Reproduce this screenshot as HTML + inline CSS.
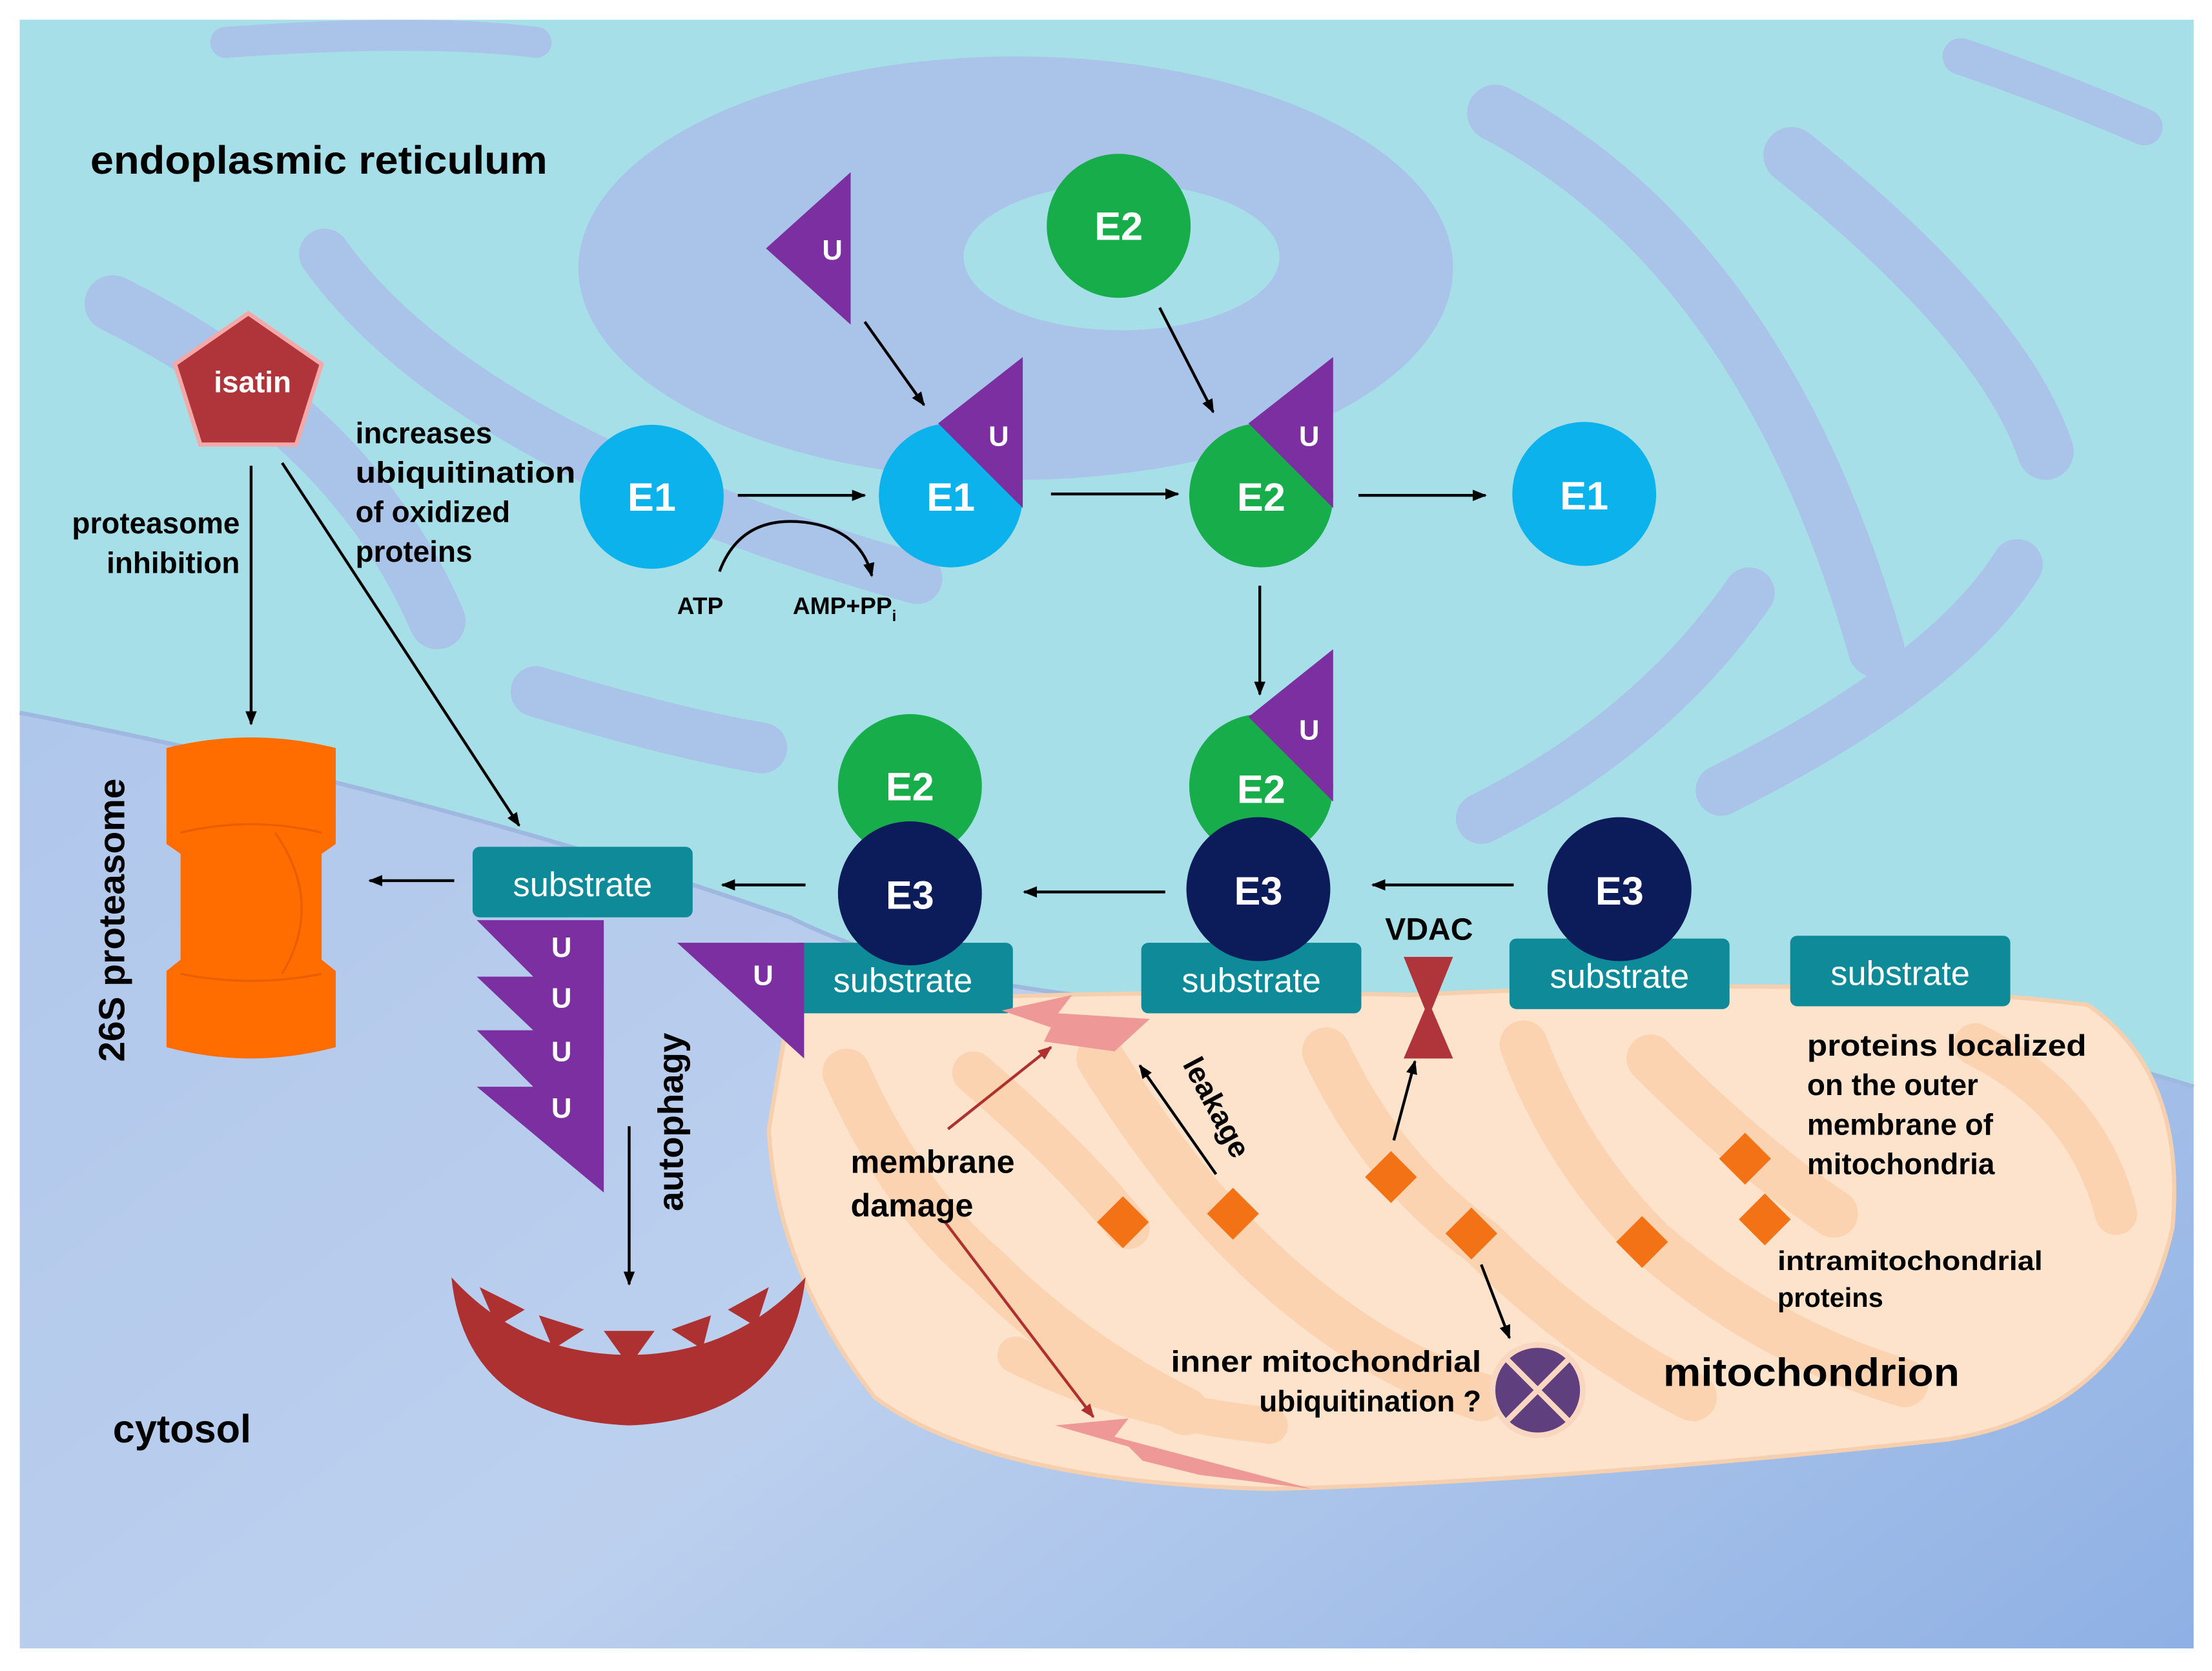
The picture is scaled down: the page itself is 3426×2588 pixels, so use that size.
<!DOCTYPE html>
<html><head><meta charset="utf-8"><style>
html,body{margin:0;padding:0;background:#fff}
svg{display:block}
text{font-family:"Liberation Sans",sans-serif;font-weight:bold}
</style></head><body>
<svg width="3426" height="2588" viewBox="0 0 1568 1184" preserveAspectRatio="none" xmlns="http://www.w3.org/2000/svg">
<defs>
<linearGradient id="cyt" x1="0" y1="0" x2="1" y2="1">
<stop offset="0" stop-color="#a9c2ea"/><stop offset="0.6" stop-color="#bcd0ee"/><stop offset="1" stop-color="#8eb0e4"/></linearGradient>
<marker id="ar" markerWidth="10" markerHeight="10" refX="9" refY="5" orient="auto" markerUnits="userSpaceOnUse"><path d="M0,1 L10,5 L0,9 z" fill="#000"/></marker>
<marker id="rr" markerWidth="10" markerHeight="10" refX="9" refY="5" orient="auto" markerUnits="userSpaceOnUse"><path d="M0,1 L10,5 L0,9 z" fill="#b03030"/></marker>
</defs>
<rect width="1568" height="1184" fill="#fff"/>
<rect x="14" y="14" width="1541" height="1154" fill="url(#cyt)"/>
<!-- ER -->
<path d="M14,14 H1555 V770 Q1300,690 960,712 Q700,720 560,650 Q300,560 14,505 Z" fill="#a7dfe8"/>
<g fill="none" stroke="#aac3e8" stroke-linecap="round">
<path d="M160,30 Q300,20 380,30" stroke-width="22"/>
<path d="M80,215 Q250,300 310,440" stroke-width="40"/>
<path d="M230,180 Q330,320 650,410" stroke-width="36"/>
<path d="M380,490 Q480,520 540,530" stroke-width="36"/>
<path d="M1060,80 Q1250,180 1330,460" stroke-width="40"/>
<path d="M1270,110 Q1420,230 1450,320" stroke-width="40"/>
<path d="M1240,420 Q1170,520 1050,580" stroke-width="36"/>
<path d="M1430,400 Q1380,480 1220,560" stroke-width="36"/>
<path d="M1390,40 Q1450,60 1520,90" stroke-width="26"/>
</g>
<ellipse cx="720" cy="190" rx="310" ry="150" fill="#aac3e8"/>
<ellipse cx="795" cy="182" rx="112" ry="52" fill="#a7dfe8"/>
<path d="M14,505 Q300,560 560,650 Q700,720 960,712 Q1300,690 1555,770" fill="none" stroke="#9fb8e0" stroke-width="3"/>
<!-- mitochondrion -->
<path d="M560,712 Q800,700 1000,705 Q1300,690 1480,712 Q1550,760 1540,870 Q1510,1000 1380,1020 Q1100,1050 900,1055 Q700,1050 620,990 Q550,900 545,800 Z" fill="#fde3cc" stroke="#f6cfae" stroke-width="3"/>
<g fill="none" stroke="#fbd3b0" stroke-linecap="round">
<path d="M600,760 Q640,850 700,900 Q760,960 840,1000" stroke-width="34"/>
<path d="M690,760 Q760,820 800,870" stroke-width="30"/>
<path d="M780,750 Q830,830 880,880 Q960,960 1050,990" stroke-width="34"/>
<path d="M940,745 Q980,830 1050,880 Q1120,950 1200,990" stroke-width="34"/>
<path d="M1080,740 Q1110,820 1170,880 Q1250,950 1350,980" stroke-width="34"/>
<path d="M1170,750 Q1240,820 1300,860" stroke-width="34"/>
<path d="M1400,740 Q1480,780 1500,860" stroke-width="30"/>
<path d="M720,960 Q800,1000 900,1010" stroke-width="26"/>
</g>
<!-- ER top label -->
<text x="64" y="123" font-size="28" textLength="324" lengthAdjust="spacingAndGlyphs">endoplasmic reticulum</text>
<!-- isatin -->
<polygon points="176,222 228,258 210,315 142,315 124,258" fill="#b0353b" stroke="#f4a8a8" stroke-width="3"/>
<text x="179" y="278" font-size="21" fill="#fff" text-anchor="middle">isatin</text>
<text x="170" y="378" font-size="21" text-anchor="end">proteasome</text>
<text x="170" y="406" font-size="21" text-anchor="end">inhibition</text>
<text x="252" y="314" font-size="21">increases</text>
<text x="252" y="342" font-size="21" textLength="156" lengthAdjust="spacingAndGlyphs">ubiquitination</text>
<text x="252" y="370" font-size="21">of oxidized</text>
<text x="252" y="398" font-size="21">proteins</text>
<g stroke="#000" stroke-width="2" fill="none" marker-end="url(#ar)">
<line x1="178" y1="330" x2="178" y2="513"/>
<line x1="200" y1="328" x2="368" y2="585"/>
<line x1="613" y1="228" x2="655" y2="287"/>
<line x1="822" y1="218" x2="860" y2="292"/>
<line x1="523" y1="351" x2="613" y2="351"/>
<line x1="745" y1="350" x2="835" y2="350"/>
<line x1="963" y1="351" x2="1053" y2="351"/>
<line x1="893" y1="415" x2="893" y2="492"/>
<line x1="1073" y1="627" x2="973" y2="627"/>
<line x1="826" y1="632" x2="726" y2="632"/>
<line x1="571" y1="627" x2="512" y2="627"/>
<line x1="322" y1="624" x2="262" y2="624"/>
<line x1="446" y1="798" x2="446" y2="910"/>
<line x1="988" y1="808" x2="1003" y2="752"/>
<line x1="1050" y1="896" x2="1070" y2="948"/>
<line x1="862" y1="832" x2="808" y2="755"/>
<path d="M510,405 Q525,365 570,370 Q610,375 618,408"/>
</g>
<g stroke="#b03030" stroke-width="2" marker-end="url(#rr)">
<line x1="672" y1="800" x2="745" y2="742"/>
<line x1="670" y1="866" x2="775" y2="1004"/>
</g>
<text x="480" y="435" font-size="17">ATP</text>
<text x="562" y="435" font-size="17">AMP+PP<tspan font-size="11" dy="5">i</tspan></text>
<!-- top row -->
<polygon points="603,122 603,230 543,176" fill="#7b2fa0"/>
<text x="590" y="184" font-size="20" fill="#fff" text-anchor="middle">U</text>
<circle cx="793" cy="160" r="51" fill="#16ad4a"/>
<text x="793" y="170" font-size="28" fill="#fff" text-anchor="middle">E2</text>
<circle cx="462" cy="352" r="51" fill="#0cb2ec"/>
<text x="462" y="362" font-size="28" fill="#fff" text-anchor="middle">E1</text>
<circle cx="674" cy="351" r="51" fill="#0cb2ec"/>
<polygon points="725,253 725,360 665,300" fill="#7b2fa0"/>
<text x="708" y="316" font-size="20" fill="#fff" text-anchor="middle">U</text>
<text x="674" y="362" font-size="28" fill="#fff" text-anchor="middle">E1</text>
<circle cx="894" cy="351" r="51" fill="#16ad4a"/>
<polygon points="945,253 945,360 885,300" fill="#7b2fa0"/>
<text x="928" y="316" font-size="20" fill="#fff" text-anchor="middle">U</text>
<text x="894" y="362" font-size="28" fill="#fff" text-anchor="middle">E2</text>
<circle cx="1123" cy="350" r="51" fill="#0cb2ec"/>
<text x="1123" y="361" font-size="28" fill="#fff" text-anchor="middle">E1</text>
<!-- middle -->
<circle cx="894" cy="557" r="51" fill="#16ad4a"/>
<polygon points="945,460 945,568 885,508" fill="#7b2fa0"/>
<text x="928" y="524" font-size="20" fill="#fff" text-anchor="middle">U</text>
<text x="894" y="569" font-size="28" fill="#fff" text-anchor="middle">E2</text>
<circle cx="645" cy="557" r="51" fill="#16ad4a"/>
<text x="645" y="567" font-size="28" fill="#fff" text-anchor="middle">E2</text>
<rect x="562" y="668" width="156" height="50" rx="5" fill="#0e8a98"/>
<rect x="809" y="668" width="156" height="50" rx="5" fill="#0e8a98"/>
<rect x="1070" y="665" width="156" height="50" rx="5" fill="#0e8a98"/>
<rect x="1269" y="663" width="156" height="50" rx="5" fill="#0e8a98"/>
<rect x="335" y="600" width="156" height="50" rx="5" fill="#0e8a98"/>
<g font-size="24" fill="#fff" text-anchor="middle">
<text x="640" y="703" style="font-weight:normal">substrate</text>
<text x="887" y="703" style="font-weight:normal">substrate</text>
<text x="1148" y="700" style="font-weight:normal">substrate</text>
<text x="1347" y="698" style="font-weight:normal">substrate</text>
<text x="413" y="635" style="font-weight:normal">substrate</text>
</g>
<circle cx="645" cy="633" r="51" fill="#0c1c5a"/>
<text x="645" y="644" font-size="28" fill="#fff" text-anchor="middle">E3</text>
<circle cx="892" cy="630" r="51" fill="#0c1c5a"/>
<text x="892" y="641" font-size="28" fill="#fff" text-anchor="middle">E3</text>
<circle cx="1148" cy="630" r="51" fill="#0c1c5a"/>
<text x="1148" y="641" font-size="28" fill="#fff" text-anchor="middle">E3</text>
<polygon points="480,668 570,668 570,750" fill="#7b2fa0"/>
<text x="541" y="698" font-size="20" fill="#fff" text-anchor="middle">U</text>
<!-- poly U chain -->
<polygon points="338,652 428,652 428,845 338,770 378,770 338,730 378,730 338,692 378,692" fill="#7b2fa0"/>
<g font-size="20" fill="#fff" text-anchor="middle"><text x="398" y="678">U</text><text x="398" y="714">U</text><text x="398" y="752">U</text><text x="398" y="792">U</text></g>
<text transform="translate(484,795) rotate(-90)" font-size="25" text-anchor="middle">autophagy</text>
<!-- lysosome -->
<path d="M320,905 Q330,1005 446,1010 Q560,1005 571,905 Q520,960 446,960 Q370,960 320,905 Z" fill="#ae3131"/>
<g fill="#ae3131"><polygon points="340,912 372,928 352,940"/><polygon points="382,932 414,942 392,956"/><polygon points="428,943 464,943 446,968"/><polygon points="504,932 476,942 498,956"/><polygon points="545,912 516,928 536,940"/></g>
<!-- proteasome -->
<path d="M118,530 Q178,515 238,530 V598 L228,605 V680 L238,688 V742 Q178,758 118,742 V688 L128,680 V605 L118,598 Z" fill="#ff6d00"/>
<path d="M128,590 Q178,578 228,590 M128,690 Q178,700 228,690 M195,590 Q230,640 200,690" stroke="#e85e00" fill="none" stroke-width="1.5"/>
<text transform="translate(88,652) rotate(-90)" font-size="26" text-anchor="middle">26S proteasome</text>
<!-- VDAC -->
<polygon points="995,678 1030,678 1015,715 1030,750 995,750 1010,715" fill="#b0353b"/>
<text x="1013" y="666" font-size="22" text-anchor="middle">VDAC</text>
<!-- damage bolts -->
<polygon points="710,716 760,705 750,718 815,722 790,745 740,738 745,728" fill="#ef9898"/>
<polygon points="748,1010 800,1005 790,1018 930,1055 850,1045 810,1035 800,1025" fill="#ef9898"/>
<text transform="translate(838,754) rotate(62)" font-size="21">leakage</text>
<text x="603" y="831" font-size="23">membrane</text>
<text x="603" y="862" font-size="23">damage</text>
<!-- diamonds -->
<g fill="#f47216">
<rect x="-13" y="-13" width="26" height="26" transform="translate(796,866) rotate(45)"/>
<rect x="-13" y="-13" width="26" height="26" transform="translate(874,860) rotate(45)"/>
<rect x="-13" y="-13" width="26" height="26" transform="translate(986,834) rotate(45)"/>
<rect x="-13" y="-13" width="26" height="26" transform="translate(1043,874) rotate(45)"/>
<rect x="-13" y="-13" width="26" height="26" transform="translate(1164,880) rotate(45)"/>
<rect x="-13" y="-13" width="26" height="26" transform="translate(1237,821) rotate(45)"/>
<rect x="-13" y="-13" width="26" height="26" transform="translate(1251,864) rotate(45)"/>
</g>
<circle cx="1090" cy="985" r="32" fill="#5f3f7e" stroke="#f8d6c0" stroke-width="4"/>
<path d="M1068,963 L1112,1007 M1112,963 L1068,1007" stroke="#f8d6c0" stroke-width="4"/>
<text x="1050" y="972" font-size="21" text-anchor="end" textLength="220" lengthAdjust="spacingAndGlyphs">inner mitochondrial</text>
<text x="1050" y="1000" font-size="21" text-anchor="end">ubiquitination ?</text>
<text x="1284" y="982" font-size="28" text-anchor="middle" textLength="210" lengthAdjust="spacingAndGlyphs">mitochondrion</text>
<g font-size="21"><text x="1281" y="748" textLength="198" lengthAdjust="spacingAndGlyphs">proteins localized</text><text x="1281" y="776">on the outer</text><text x="1281" y="804">membrane of</text><text x="1281" y="832">mitochondria</text></g>
<text x="1260" y="900" font-size="19" textLength="188" lengthAdjust="spacingAndGlyphs">intramitochondrial</text>
<text x="1260" y="926" font-size="19">proteins</text>
<text x="80" y="1022" font-size="28">cytosol</text>
</svg>
</body></html>
